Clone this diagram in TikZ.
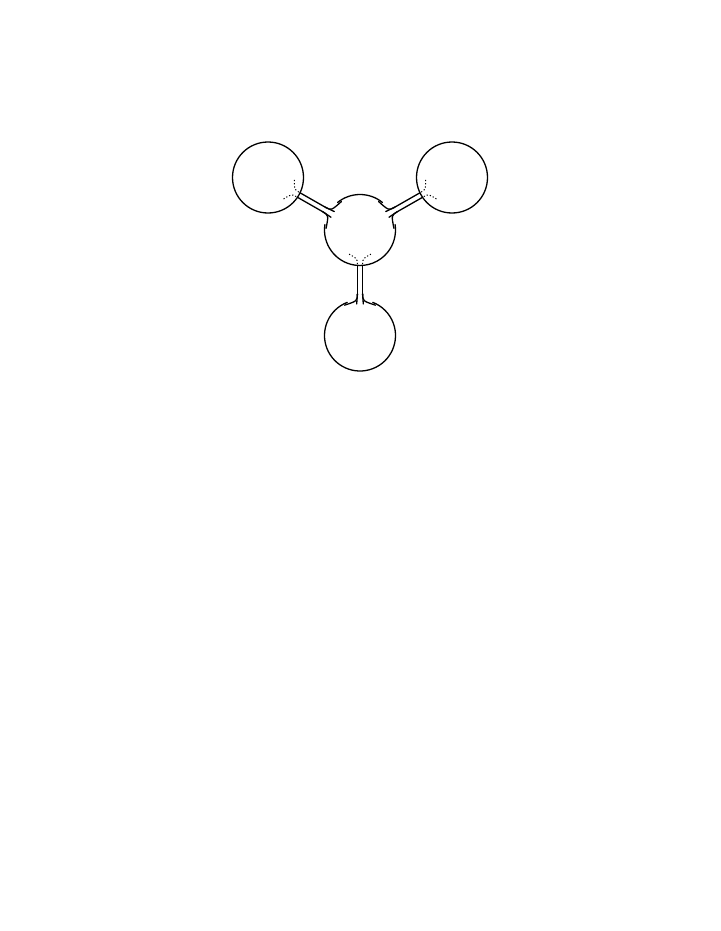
\documentclass[tikz,border=0pt]{standalone}
\usetikzlibrary{calc}
\tikzset{
  curve/.style={line width=1.3pt, line cap=round},
  hidden/.style={line width=1pt, dash pattern=on 1.2pt off 2pt},
  ball/.style={circle, minimum size=71pt, inner sep=0pt}
}
\newcommand\solidflare[3]{%
  \foreach \s in {1,-1}{
    \draw[curve] ($(#1)+(#2:#3+6)+(#2+90:2.6*\s)$) .. controls ($(#1)+(#2:#3-1)+(#2+90:2.8*\s)$) .. ($(#1)+(#2+27*\s:#3-1.5)$);
    \draw[curve] ($(#1)+(#2:#3+6)+(#2+90:2.6*\s)$) -- ($(#1)+(#2:#3-4)+(#2+90:3.3*\s)$);
  }}
\newcommand\hiddenflare[3]{%
  \foreach \s in {1,-1}{
    \draw[hidden] ($(#1)+(#2:#3-1.5)+(#2+90:2.6*\s)$) .. controls ($(#1)+(#2:#3-7)+(#2+90:2.8*\s)$) .. ($(#1)+(#2+26*\s:#3-9)$);
  }}
\begin{document}
\begin{tikzpicture}[x=1pt,y=1pt]
\useasboundingbox (0,0) rectangle (720,-931);
\node[ball] (C) at (360,-230) {};
\node[ball] (TL) at (268,-177.5) {};
\node[ball] (TR) at (452,-177.5) {};
\node[ball] (B) at (360,-335.5) {};
% circles
\draw[curve] (TL) circle[radius=35.5];
\draw[curve] (TR) circle[radius=35.5];
\draw[curve] ($(C)+(50.7:35.5)$) arc[start angle=50.7, end angle=129.3, radius=35.5];
\draw[curve] ($(C)+(171.3:35.5)$) arc[start angle=171.3, end angle=368.7, radius=35.5];
\draw[curve] ($(B)+(111:35.5)$) arc[start angle=111, end angle=429, radius=35.5];
% bands
\foreach \s in {1,-1}{
  \draw[curve] ($(TL)+(-29.7:35.5)+(60.3:2.6*\s)$) -- ($(C)+(150.3:41.5)+(60.3:2.6*\s)$);
  \draw[curve] ($(TR)+(209.7:35.5)+(119.7:2.6*\s)$) -- ($(C)+(29.7:41.5)+(119.7:2.6*\s)$);
  \draw[curve] ($(C)+(270:35.5)+(0:2.6*\s)$) -- ($(B)+(90:41.5)+(0:2.6*\s)$);
}
% junctions
\solidflare{C}{150.3}{35.5}
\solidflare{C}{29.7}{35.5}
\solidflare{B}{90}{35.5}
\hiddenflare{C}{270}{35.5}
\hiddenflare{TL}{-29.7}{35.5}
\hiddenflare{TR}{209.7}{35.5}
\end{tikzpicture}
\end{document}
